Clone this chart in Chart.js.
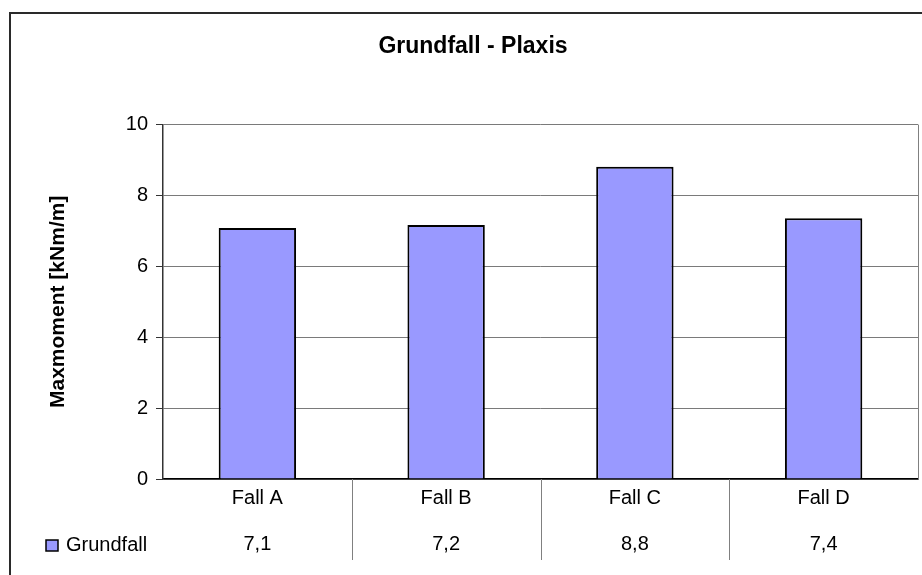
<!DOCTYPE html>
<html>
<head>
<meta charset="utf-8">
<script src="https://cdn.jsdelivr.net/npm/chart.js@4/dist/chart.umd.min.js"></script>
<style>
  html, body { margin: 0; padding: 0; background: #ffffff; }
  #wrap { width: 922px; height: 575px; position: relative; }
</style>
</head>
<body>
<div id="wrap"><canvas id="c" width="922" height="575"></canvas></div>
<script>
// ---- data ----
const categories = ["Fall A", "Fall B", "Fall C", "Fall D"];
const seriesName = "Grundfall";
const grundfallValues = [7.08, 7.17, 8.81, 7.36];
const yTicks = [0, 2, 4, 6, 8, 10];
const chartTitle = "Grundfall - Plaxis";
const yAxisTitle = "Maxmoment [kNm/m]";

const FONT = "'Liberation Sans', Arial, sans-serif";
const BAR_COLOR = "#9999FF";

function fmt(v) { return v.toFixed(1).replace('.', ','); }

const tablePlugin = {
  id: 'excelTable',
  afterDraw(chart) {
    const ctx = chart.ctx;
    const xs = chart.scales.x;
    const area = chart.chartArea;
    ctx.save();
    // outer chart border (left + top, right/bottom are cut off)
    ctx.strokeStyle = '#2a2a2a';
    ctx.lineWidth = 2;
    ctx.beginPath();
    ctx.moveTo(10, 575);
    ctx.lineTo(10, 13);
    ctx.lineTo(922, 13);
    ctx.stroke();
    // plot area right border
    ctx.strokeStyle = '#808080';
    ctx.lineWidth = 1;
    ctx.beginPath();
    ctx.moveTo(Math.round(area.right) + 0.5, area.top);
    ctx.lineTo(Math.round(area.right) + 0.5, area.bottom);
    ctx.stroke();
    // separators of the data table
    ctx.strokeStyle = '#808080';
    ctx.lineWidth = 1;
    for (let i = 1; i < categories.length; i++) {
      const xm = Math.round((xs.getPixelForValue(i - 1) + xs.getPixelForValue(i)) / 2) + 0.5;
      ctx.beginPath();
      ctx.moveTo(xm, area.bottom);
      ctx.lineTo(xm, 560);
      ctx.stroke();
    }
    // value row
    ctx.fillStyle = '#000000';
    ctx.font = '20px ' + FONT;
    ctx.textAlign = 'center';
    ctx.textBaseline = 'middle';
    grundfallValues.forEach((v, i) => {
      ctx.fillText(fmt(v), xs.getPixelForValue(i), 544);
    });
    // legend key
    ctx.fillStyle = BAR_COLOR;
    ctx.fillRect(46, 540, 12, 11);
    ctx.strokeStyle = '#000000';
    ctx.lineWidth = 1.5;
    ctx.strokeRect(46, 540, 12, 11);
    ctx.fillStyle = '#000000';
    ctx.textAlign = 'left';
    ctx.fillText(seriesName, 66, 545);
    ctx.restore();
  }
};

new Chart(document.getElementById('c'), {
  type: 'bar',
  data: {
    labels: categories,
    datasets: [{
      label: seriesName,
      data: grundfallValues,
      backgroundColor: BAR_COLOR,
      borderColor: '#000000',
      borderWidth: 2,
      borderSkipped: 'start',
      categoryPercentage: 1.0,
      barPercentage: 0.41
    }]
  },
  options: {
    responsive: false,
    animation: false,
    devicePixelRatio: 1,
    layout: { padding: { left: 28, right: 4, top: 0, bottom: 0 } },
    plugins: {
      legend: { display: false },
      tooltip: { enabled: false },
      title: {
        display: true,
        text: chartTitle,
        color: '#000000',
        font: { family: FONT, size: 23, weight: 'bold', lineHeight: 1.2 },
        padding: { top: 33, bottom: 64 }
      }
    },
    scales: {
      x: {
        grid: { display: false, drawTicks: false },
        border: { display: true, color: '#000000', width: 1.5 },
        ticks: {
          color: '#000000',
          font: { family: FONT, size: 20 },
          padding: 7,
          maxRotation: 0
        },
        afterFit(scale) { scale.height = 96; }
      },
      y: {
        min: 0,
        max: 10,
        afterBuildTicks(scale) { scale.ticks = yTicks.map(v => ({ value: v })); },
        grid: {
          color: '#7a7a7a',
          lineWidth: 1,
          drawTicks: true,
          tickLength: 7,
          tickColor: '#333333'
        },
        border: { display: true, color: '#333333', width: 1.5 },
        ticks: {
          color: '#000000',
          font: { family: FONT, size: 20 },
          padding: 8
        },
        title: {
          display: true,
          text: yAxisTitle,
          color: '#000000',
          font: { family: FONT, size: 21, weight: 'bold', lineHeight: 1.2 },
          padding: { top: 18, bottom: 0 }
        },
        afterFit(scale) { scale.width = 135; }
      }
    }
  },
  plugins: [tablePlugin]
});
</script>
</body>
</html>
